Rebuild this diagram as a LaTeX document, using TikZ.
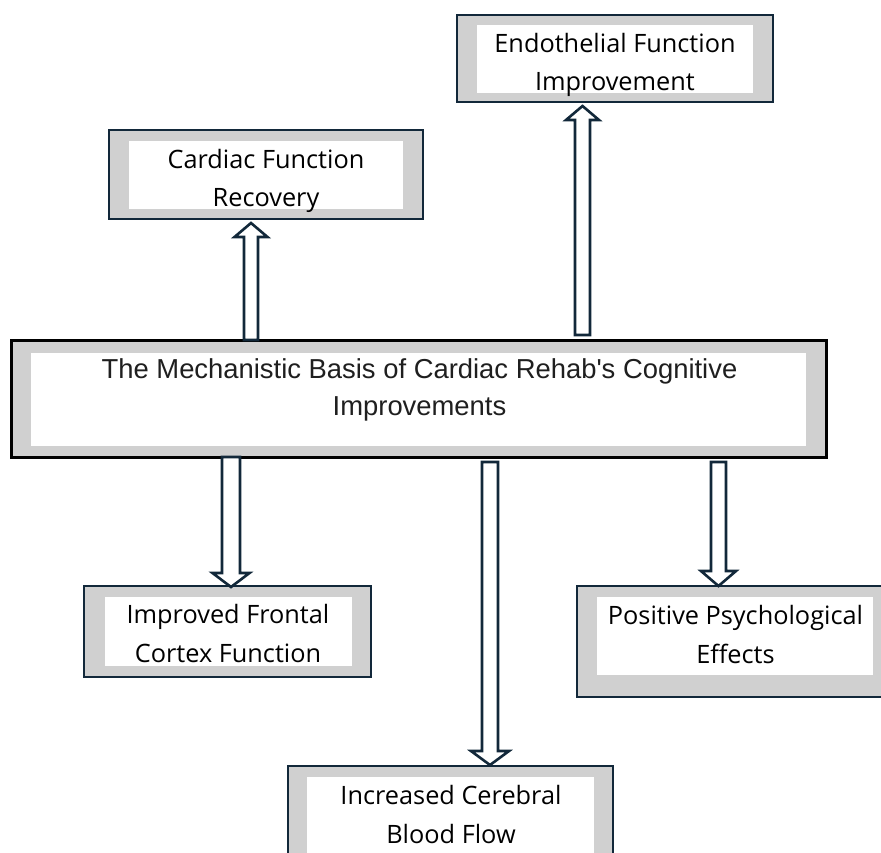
\documentclass[tikz,border=0pt]{standalone}
\usepackage{fontspec}
\setmainfont{Open Sans}
\newfontfamily\arialf{Liberation Sans}
\definecolor{navy}{HTML}{12283A}
\definecolor{framegrey}{HTML}{D0D0D0}
\newcommand\blockarr[6]{% #1 cx, #2 tail y, #3 tip y, #4 shaft half width, #5 head half width, #6 head base y
  \draw[arrowline] ({#1-#4},#2) -- ({#1-#4},#6) -- ({#1-#5},#6) -- (#1,#3) -- ({#1+#5},#6) -- ({#1+#4},#6) -- ({#1+#4},#2) -- cycle;}
\begin{document}
\begin{tikzpicture}[x=1pt,y=-1pt,
  outerbox/.style={draw=navy, line width=2.6pt, fill=framegrey},
  mainouter/.style={draw=black, line width=3pt, fill=framegrey},
  innerbox/.style={fill=white, draw=none},
  lbl/.style={font=\fontsize{25.3}{38.5}\selectfont, align=center, text=black, inner sep=0pt},
  mainlbl/.style={font=\arialf\fontsize{27.4}{37}\selectfont, align=center, text=black!88, inner sep=0pt},
  arrowline/.style={draw=navy, line width=2.6pt, fill=white, line join=miter}]
\useasboundingbox (0,0) rectangle (881,852);
\clip (0,0) rectangle (881,852);
\fill[white] (0,0) rectangle (881,852);

% Cardiac Function Recovery
\draw[outerbox] (109,130) rectangle (423,219);
\fill[innerbox] (129,141) rectangle (403,209);
\node[lbl] (cfr) at (266,181) {Cardiac Function\\Recovery};

% Endothelial Function Improvement
\draw[outerbox] (457,15) rectangle (773,102);
\fill[innerbox] (477,25) rectangle (753,93);
\node[lbl] (efi) at (615,65) {Endothelial Function\\Improvement};

% Main box
\draw[mainouter] (11,340) rectangle (826,457);
\fill[innerbox] (31,353) rectangle (806,446);
\node[mainlbl] (main) at (419.5,390) {The Mechanistic Basis of Cardiac Rehab's Cognitive\\Improvements};

% Improved Frontal Cortex Function
\draw[outerbox] (84,586) rectangle (371,677);
\fill[innerbox] (105,597) rectangle (352,666);
\node[lbl] (ifc) at (228,633.5) {Improved Frontal\\Cortex Function};

% Positive Psychological Effects
\draw[outerbox] (577,586) rectangle (895,697);
\fill[innerbox] (597,597) rectangle (873,675);
\node[lbl] (ppe) at (735.5,634.5) {Positive Psychological\\Effects};

% Increased Cerebral Blood Flow
\draw[outerbox] (288,766) rectangle (613,900);
\fill[innerbox] (307,777) rectangle (594,890);
\node[lbl] (icb) at (451,814.5) {Increased Cerebral\\Blood Flow};

% Block arrows
\blockarr{251}{340}{223}{7}{16.5}{237}
\blockarr{582.5}{335}{106}{7.5}{16.5}{120}
\blockarr{231}{457}{587}{9}{18.5}{573}
\blockarr{490}{462}{765}{8}{19}{751}
\blockarr{718.5}{462}{586}{7.5}{17.5}{571}
\end{tikzpicture}
\end{document}
